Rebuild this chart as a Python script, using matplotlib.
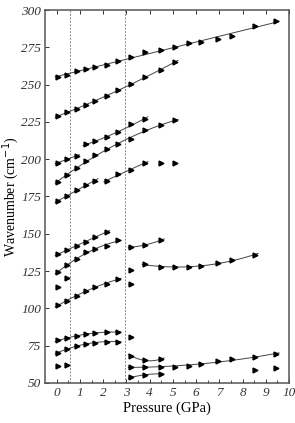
import numpy as np
import matplotlib.pyplot as plt

plt.rcParams['font.family'] = ['Liberation Serif', 'DejaVu Serif']

# pressures used in the run (GPa)
p_all = [0.05, 0.45, 0.85, 1.25, 1.65, 2.15, 2.65, 3.2, 3.8, 4.5,
         5.1, 5.7, 6.2, 6.95, 7.55, 8.55, 9.45]

# modes with fitted lines
w_255 = [255, 256.6, 259.2, 260.5, 262.1, 263.0, 265.9, 268.8, 271.7, 273.5,
         275.4, 277.7, 278.6, 280.8, 282.8, 289.3, 292.8]
w_229 = [229, 231.5, 234, 236.5, 239, 242.5, 246.5, 250.5, 255, 260, 265.5]
p_210 = [1.25, 1.65, 2.15, 2.65, 3.2, 3.8]
w_210 = [210, 212, 214.8, 218.2, 223.6, 227]
w_185 = [185, 189.4, 193.9, 199.0, 203.1, 206.6, 210.4, 213.3, 219.3, 223, 226.5]
w_198 = [197.7, 199.9, 202.4]
w_172a = [172, 175.4, 179.4, 182.7, 185.6]
p_172b = [2.15, 2.65, 3.2, 3.8]
w_172b = [185.6, 190, 192.8, 197.7]
w_136 = [136.2, 139.4, 142, 144.8, 147.5, 151.4]
w_124 = [124.5, 129, 133, 137.5, 140, 142, 145.5]
p_141 = [3.2, 3.8, 4.5]
w_141 = [141, 142.5, 145.8]
p_128 = [3.8, 4.5, 5.1, 5.7, 6.2, 6.95, 7.55, 8.55]
w_128 = [129.6, 127.7, 127.5, 127.5, 128.4, 130.5, 132.4, 135.8]
w_102 = [102, 105.2, 108.4, 111.8, 114.3, 116.5, 119.7]
w_78 = [78.4, 80, 81.5, 82.6, 83.5, 84, 84]
w_70 = [70.3, 72.6, 74.8, 76.1, 77, 77.3, 77.7]
p_66 = [3.2, 3.8, 4.5]
w_66 = [68.1, 65, 66]
p_60 = [3.2, 3.8, 4.5, 5.1, 5.7, 6.2, 6.95, 7.55, 8.55, 9.45]
w_60 = [60.7, 60.7, 60.5, 60.9, 61.6, 62.5, 64.3, 65.9, 67.6, 69.2]
p_55 = [3.2, 3.8, 4.5]
w_55 = [53.6, 55.4, 56]

# isolated points without lines
p_iso = [4.5, 5.1, 0.05, 0.45, 3.2, 3.2, 0.05, 0.45, 3.2, 8.55, 9.45]
w_iso = [197.7, 197.7, 114.6, 120, 116.3, 125.7, 61, 62, 81, 58.6, 59.8]

# phase boundaries (GPa)
boundaries = [0.55, 2.95]

x_ticks = list(range(11))
y_ticks = [50, 75, 100, 125, 150, 175, 200, 225, 250, 275, 300]

fits = [
    (p_all, w_255, 1),
    (p_all[:11], w_229, 2),
    (p_210, w_210, 2),
    (p_all[:11], w_185, 2),
    (p_all[:3], w_198, 1),
    (p_all[:5], w_172a, 1),
    (p_172b, w_172b, 2),
    (p_all[:6], w_136, 1),
    (p_all[:7], w_124, 2),
    (p_141, w_141, 2),
    (p_128, w_128, 2),
    (p_all[:7], w_102, 2),
    (p_all[:7], w_78, 2),
    (p_all[:7], w_70, 2),
    (p_66, w_66, 2),
    (p_60, w_60, 2),
    (p_55, w_55, 2),
]

fig = plt.figure(figsize=(2.95, 4.23), dpi=100)
ax = fig.add_axes([0.153, 0.095, 0.827, 0.881])

for b in boundaries:
    ax.axvline(b, color='#888888', lw=0.7, ls=(0, (2, 1.5)), zorder=1)

for p, w, deg in fits:
    p = np.array(p)
    c = np.polyfit(p, w, deg)
    xx = np.linspace(p.min() - 0.12, p.max() + 0.12, 60)
    ax.plot(xx, np.polyval(c, xx), color='#444444', lw=0.7, zorder=2)
    ax.plot(p, w, ls='none', marker='>', ms=3.5, color='black', zorder=3)

ax.plot(p_iso, w_iso, ls='none', marker='>', ms=3.5, color='black', zorder=3)

ax.set_xlim(-0.5, 10)
ax.set_ylim(50, 300)
ax.set_xticks(x_ticks)
ax.set_xticklabels([str(t) for t in x_ticks], fontstyle='italic', fontsize=9.5)
ax.set_xticks(np.arange(0, 10, 0.5), minor=True)
ax.set_yticks(y_ticks)
ax.set_yticklabels([str(t) for t in y_ticks], fontstyle='italic', fontsize=9.5)
ax.tick_params(which='both', direction='in', top=True, right=False,
               colors='#333333', pad=3)
ax.tick_params(which='major', length=3, width=0.7)
ax.tick_params(which='minor', length=2, width=0.6, top=False)
for s in ax.spines.values():
    s.set_color('#555555')
    s.set_linewidth(1.1)

ax.set_xlabel('Pressure (GPa)', fontsize=10.5, labelpad=2)
ax.set_ylabel('Wavenumber (cm$^{-1}$)', fontsize=10)
ax.yaxis.set_label_coords(-0.1, 0.5)

fig.savefig('out.png', dpi=100)
